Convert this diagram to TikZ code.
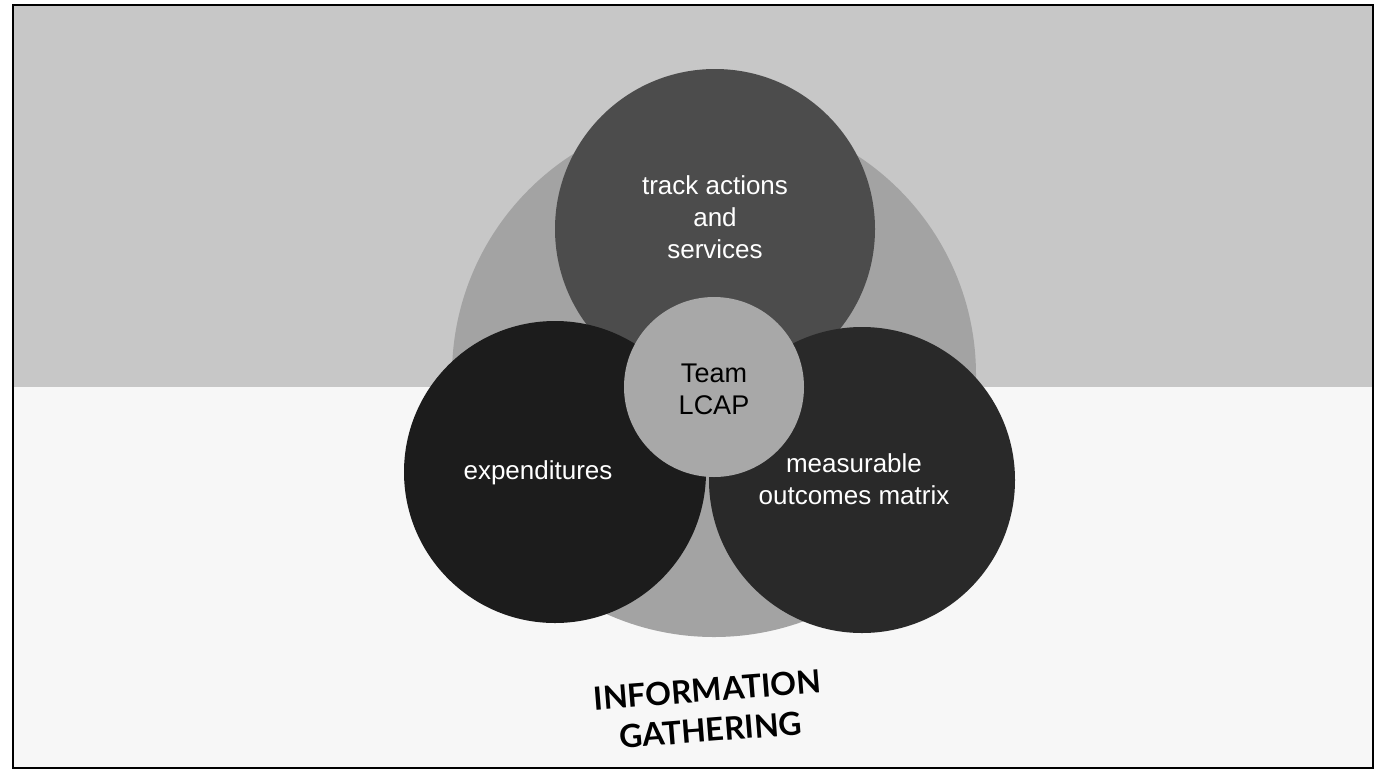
\documentclass[tikz,border=0pt]{standalone}
\usepackage{fontspec}
\setmainfont{Liberation Sans}
\newfontfamily\titlefont{Lato}
\usepackage{tikz}
\usetikzlibrary{positioning}
\definecolor{bgtop}{gray}{0.78}
\definecolor{bgbottom}{gray}{0.97}
\definecolor{ringgray}{gray}{0.64}
\definecolor{topgray}{gray}{0.30}
\definecolor{leftgray}{gray}{0.11}
\definecolor{rightgray}{gray}{0.16}
\definecolor{coregray}{gray}{0.66}

\begin{document}
\begin{tikzpicture}[
		x=1pt,
		y=-1pt,
		inner sep=0pt,
		outer sep=0pt
	]
	  	\tikzstyle{bubble}=[
	  		circle,
	  		draw=none,
	  		inner sep=0pt
	  	]
	  	\tikzstyle{word}=[
	  		align=center,
	  		text=white,
	  		font=\fontsize{26}{32}\selectfont
	  	]
	  	
	  	\useasboundingbox (0,0) rectangle (1379,772);
	  	% background, grey above and nearly white below
	  	\fill[bgbottom] (13,5) rectangle (1373,768);
	  	\fill[bgtop] (13,5) rectangle (1373,387);
	  	
	  	\node[bubble, fill=ringgray, minimum size=524pt] (ring) at (714,375) {};
	  	\node[bubble, fill=topgray, minimum size=320pt] (track) at (715,229) {};
	  	\node[bubble, fill=leftgray, minimum size=302pt] (spend) at (555,472) {};
	  	\node[bubble, fill=rightgray, minimum size=306pt] (measure) at (862,480) {};
	  	\node[bubble, fill=coregray, minimum size=180pt] (team) at (714,387) {};
	  	
	  	\node[word] (tracktext) at ([yshift=12pt]track.center) {track actions\\and\\services};
	  	\node[word] (spendtext) at ([xshift=-17pt, yshift=-1pt]spend.center) {expenditures};
	  	\node[word] (measuretext) at ([xshift=-8pt, yshift=1pt]measure.center) {measurable\\outcomes matrix};
	  	\node[word, text=black, font=\fontsize{27}{32}\selectfont] (teamtext) at ([yshift=-2pt]team.center) {Team\\LCAP};
	  	
	  	\node[align=center, rotate=4.5, font=\titlefont\bfseries\fontsize{32}{40}\selectfont] (title) at (709,710) {INFORMATION\\GATHERING};
	  	
	  	\draw[line width=2.5pt] (13,5) rectangle (1373,768);
	\end{tikzpicture}
\end{document}
